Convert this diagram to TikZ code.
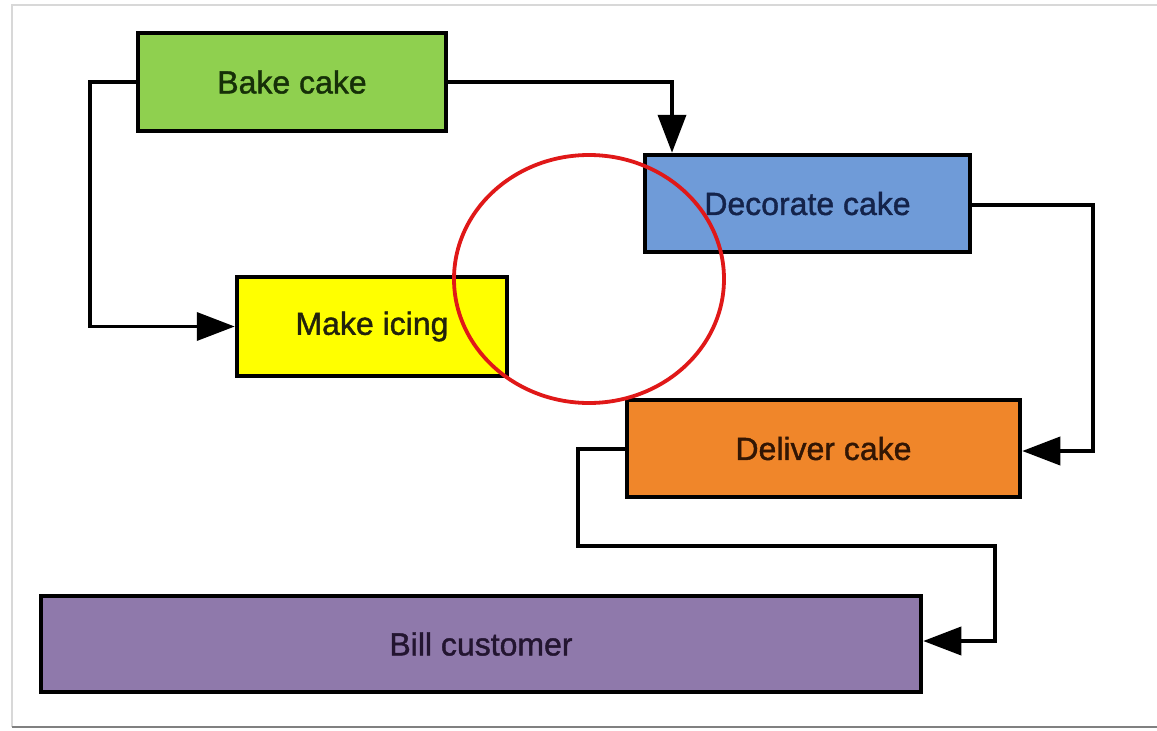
\documentclass[tikz,border=0pt]{standalone}
\usepackage{fontspec}
\setmainfont{Liberation Sans}
\newfontface\boxfont[FakeBold=1.3]{Liberation Sans}
\usetikzlibrary{arrows.meta}
\definecolor{bakefill}{HTML}{8FD04F}
\definecolor{decofill}{HTML}{6F9BD8}
\definecolor{icefill}{HTML}{FFFF00}
\definecolor{delfill}{HTML}{F0862A}
\definecolor{billfill}{HTML}{8F79AB}
\definecolor{baketext}{HTML}{163008}
\definecolor{decotext}{HTML}{14234A}
\definecolor{icetext}{HTML}{22220C}
\definecolor{deltext}{HTML}{321604}
\definecolor{billtext}{HTML}{231530}
\definecolor{framegray}{HTML}{D8D8D8}
\definecolor{circred}{HTML}{E01818}
\tikzset{
  stepbox/.style={draw=black, line width=4.5pt, rectangle, inner sep=0pt,
    font=\boxfont\fontsize{32}{38}\selectfont},
  conn/.style={draw=black, line width=3.8pt, -{Triangle[length=38pt,width=28pt]}},
}
\begin{document}
\begin{tikzpicture}[x=1pt,y=-1pt]
\useasboundingbox (0,0) rectangle (1157,731);
\fill[white] (0,0) rectangle (1157,731);
% frame
\draw[framegray, line width=2pt] (1157,5) -- (12,5) -- (12,727);
\draw[gray, line width=2.5pt] (12,727) -- (1157,727);
% boxes
\node[stepbox, fill=bakefill, text=baketext, minimum width=308pt, minimum height=98pt] (bake) at (292,82) {Bake cake};
\node[stepbox, fill=decofill, text=decotext, minimum width=325pt, minimum height=97pt] (deco) at (807.5,203.5) {Decorate cake};
\node[stepbox, fill=icefill, text=icetext, minimum width=270pt, minimum height=99pt] (ice) at (372,326.5) {Make icing};
\node[stepbox, fill=delfill, text=deltext, minimum width=393pt, minimum height=97pt] (deliver) at (823.5,448.5) {Deliver cake};
\node[stepbox, fill=billfill, text=billtext, minimum width=880pt, minimum height=96pt] (bill) at (481,644) {Bill customer};
% connectors
\coordinate (c1) at (90,82);
\coordinate (c2) at (90,326.5);
\draw[conn] (bake.west) -- (c1) -- (c2) -- (ice.west);
\coordinate (c3) at (672,82);
\draw[conn] (bake.east) -- (c3) -- (deco.north west -| c3);
\coordinate (c4) at (1093,205);
\coordinate (c5) at (1093,451);
\draw[conn] (deco.east |- c4) -- (c4) -- (c5) -- (deliver.east |- c5);
\coordinate (c6) at (578,449);
\coordinate (c7) at (578,546);
\coordinate (c8) at (995,546);
\coordinate (c9) at (995,641);
\draw[conn] (deliver.west |- c6) -- (c6) -- (c7) -- (c8) -- (c9) -- (bill.east |- c9);
% red circle
\draw[circred, line width=3.8pt] (589,279) ellipse [x radius=135, y radius=124];
\end{tikzpicture}
\end{document}
